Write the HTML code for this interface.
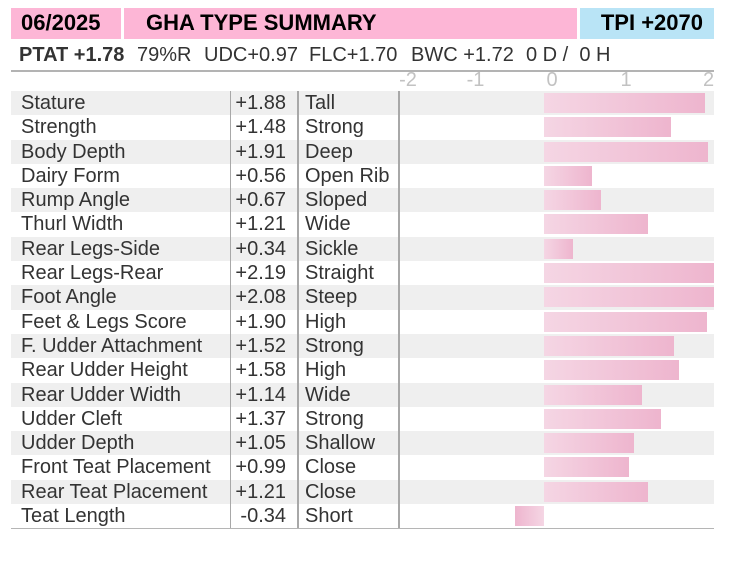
<!DOCTYPE html>
<html><head><meta charset="utf-8"><style>
*{margin:0;padding:0;box-sizing:border-box}
html,body{width:746px;height:572px;background:#fff;overflow:hidden}
body{position:relative;font-family:"Liberation Sans",Arial,sans-serif}
.abs{position:absolute;white-space:nowrap}
.hdr{font-weight:bold;font-size:22px;line-height:22px;color:#000}
.sub{font-size:20px;line-height:20px;color:#333;top:45.4px}
.ax{font-size:20px;line-height:20px;color:#c2c2c2;top:70px;width:30px;text-align:center}
#rows{position:absolute;left:11px;top:91px;width:703px}
.r{position:relative;height:24.31px;font-size:20px;line-height:24.31px;color:#333}
.r.g{background:#efefef}
.r span{position:absolute;top:0;white-space:nowrap}
.n{left:10px}
.v{right:428px}
.d{left:294px}
.b{position:absolute;top:2px;height:20px;background:linear-gradient(to right,#f5d6e4,#eeb5ce)}
.b.neg{background:linear-gradient(to left,#f5d6e4,#eeb5ce)}
.vl{position:absolute;top:91px;height:437px;width:1.5px;background:#a8a8a8}
</style></head><body>
<div class="abs" style="left:11px;top:8px;width:703px;height:31px;background:#fdb6d6"></div>
<div class="abs" style="left:121px;top:8px;width:3px;height:31px;background:#fff"></div>
<div class="abs" style="left:577px;top:8px;width:3px;height:31px;background:#fff"></div>
<div class="abs" style="left:580px;top:8px;width:134px;height:31px;background:#b9e4f6"></div>
<div class="abs hdr" style="left:21px;top:12.4px">06/2025</div>
<div class="abs hdr" style="left:146px;top:12.4px">GHA TYPE SUMMARY</div>
<div class="abs hdr" style="right:43px;top:12.4px">TPI +2070</div>

<div class="abs sub" style="left:19px;font-weight:bold">PTAT +1.78</div>
<div class="abs sub" style="left:137px">79%R</div>
<div class="abs sub" style="left:204px">UDC+0.97</div>
<div class="abs sub" style="left:309px">FLC+1.70</div>
<div class="abs sub" style="left:411px">BWC +1.72</div>
<div class="abs sub" style="left:526px">0 D /&nbsp;&nbsp;0 H</div>
<div class="abs" style="left:11px;top:70px;width:703px;height:1.6px;background:#b3b3b3"></div>

<div class="abs ax" style="left:393px">-2</div>
<div class="abs ax" style="left:460.5px">-1</div>
<div class="abs ax" style="left:537px">0</div>
<div class="abs ax" style="left:611px">1</div>
<div class="abs ax" style="left:693.5px">2</div>

<div id="rows">
<div class="r g"><div class="b" style="left:533px;width:160.9px"></div><span class="n">Stature</span><span class="v">+1.88</span><span class="d">Tall</span></div>
<div class="r"><div class="b" style="left:533px;width:126.7px"></div><span class="n">Strength</span><span class="v">+1.48</span><span class="d">Strong</span></div>
<div class="r g"><div class="b" style="left:533px;width:163.5px"></div><span class="n">Body Depth</span><span class="v">+1.91</span><span class="d">Deep</span></div>
<div class="r"><div class="b" style="left:533px;width:47.9px"></div><span class="n">Dairy Form</span><span class="v">+0.56</span><span class="d">Open Rib</span></div>
<div class="r g"><div class="b" style="left:533px;width:57.4px"></div><span class="n">Rump Angle</span><span class="v">+0.67</span><span class="d">Sloped</span></div>
<div class="r"><div class="b" style="left:533px;width:103.6px"></div><span class="n">Thurl Width</span><span class="v">+1.21</span><span class="d">Wide</span></div>
<div class="r g"><div class="b" style="left:533px;width:29.1px"></div><span class="n">Rear Legs-Side</span><span class="v">+0.34</span><span class="d">Sickle</span></div>
<div class="r"><div class="b" style="left:533px;width:170px"></div><span class="n">Rear Legs-Rear</span><span class="v">+2.19</span><span class="d">Straight</span></div>
<div class="r g"><div class="b" style="left:533px;width:170px"></div><span class="n">Foot Angle</span><span class="v">+2.08</span><span class="d">Steep</span></div>
<div class="r"><div class="b" style="left:533px;width:162.6px"></div><span class="n">Feet &amp; Legs Score</span><span class="v">+1.90</span><span class="d">High</span></div>
<div class="r g"><div class="b" style="left:533px;width:130.1px"></div><span class="n">F. Udder Attachment</span><span class="v">+1.52</span><span class="d">Strong</span></div>
<div class="r"><div class="b" style="left:533px;width:135.2px"></div><span class="n">Rear Udder Height</span><span class="v">+1.58</span><span class="d">High</span></div>
<div class="r g"><div class="b" style="left:533px;width:97.6px"></div><span class="n">Rear Udder Width</span><span class="v">+1.14</span><span class="d">Wide</span></div>
<div class="r"><div class="b" style="left:533px;width:117.3px"></div><span class="n">Udder Cleft</span><span class="v">+1.37</span><span class="d">Strong</span></div>
<div class="r g"><div class="b" style="left:533px;width:89.9px"></div><span class="n">Udder Depth</span><span class="v">+1.05</span><span class="d">Shallow</span></div>
<div class="r"><div class="b" style="left:533px;width:84.7px"></div><span class="n">Front Teat Placement</span><span class="v">+0.99</span><span class="d">Close</span></div>
<div class="r g"><div class="b" style="left:533px;width:103.6px"></div><span class="n">Rear Teat Placement</span><span class="v">+1.21</span><span class="d">Close</span></div>
<div class="r"><div class="b neg" style="left:503.9px;width:29.1px"></div><span class="n">Teat Length</span><span class="v">-0.34</span><span class="d">Short</span></div>
</div>

<div class="vl" style="left:229.5px"></div>
<div class="vl" style="left:297.3px"></div>
<div class="vl" style="left:398.3px"></div>
<div class="abs" style="left:11px;top:527.5px;width:703px;height:1.8px;background:#b5b5b5"></div>
</body></html>
